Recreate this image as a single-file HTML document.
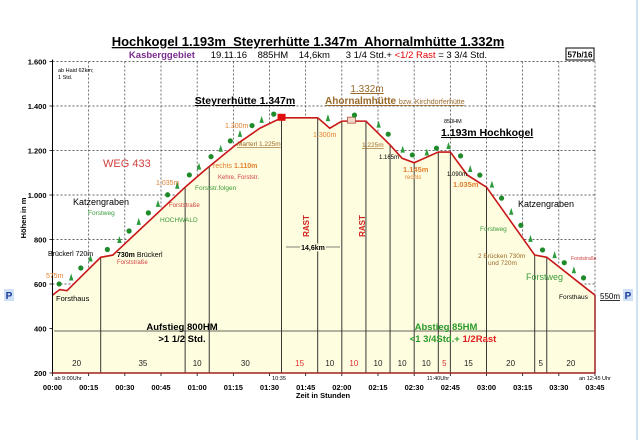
<!DOCTYPE html>
<html><head><meta charset="utf-8"><style>
html,body{margin:0;padding:0;background:#fff;}
svg{display:block;font-family:"Liberation Sans",Arial,sans-serif;}
</style></head><body>
<svg id="chart" width="643" height="440" viewBox="0 0 643 440">
<rect x="0" y="0" width="643" height="440" fill="#fff"/>
<line x1="637" y1="0" x2="637" y2="440" stroke="#cfe3f3" stroke-width="2"/>
<g id="grid"></g>
<g id="profile"></g>
<g id="trees"></g>
<g id="axes"></g>
<g id="labels">
<text x="308" y="46" font-size="13" font-weight="bold" text-anchor="middle" text-decoration="underline" style="white-space:pre">Hochkogel 1.193m  Steyrerhütte 1.347m  Ahornalmhütte 1.332m</text>
<text x="308" y="58" font-size="9.5" text-anchor="middle" style="white-space:pre"><tspan fill="#7b2d8e" font-weight="bold">Kasberggebiet</tspan>      19.11.16    885HM    14,6km      3 1/4 Std.+ <tspan fill="#e00000">&lt;1/2 Rast</tspan> = 3 3/4 Std.</text>
<rect x="566" y="48" width="28" height="12" fill="#fff" stroke="#000" stroke-width="1"/>
<text x="580" y="57.5" font-size="8" font-weight="bold" text-anchor="middle">57b/16</text>
<text x="58" y="72" font-size="5.5">ab Haid 62km;</text>
<text x="58" y="79" font-size="5.5">1 Std.</text>
<text x="245" y="104" font-size="10.5" font-weight="bold" text-anchor="middle" text-decoration="underline">Steyrerhütte 1.347m</text>
<text x="367" y="92" font-size="10" fill="#9a6a2a" text-anchor="middle" text-decoration="underline">1.332m</text>
<text x="325" y="104" font-size="10" fill="#9a6a2a" font-weight="bold" text-decoration="underline">Ahornalmhütte <tspan font-size="7" font-weight="normal">bzw. Kirchdorferhütte</tspan></text>
<text x="444" y="123" font-size="5.5">850HM</text>
<text x="441" y="136" font-size="10.5" font-weight="bold" text-decoration="underline">1.193m Hochkogel</text>
<text x="103" y="167" font-size="11" fill="#d04040">WEG 433</text>
<text x="73" y="205" font-size="9">Katzengraben</text>
<text x="88" y="215" font-size="6.5" fill="#3a9a3a">Forstweg</text>
<text x="160" y="222" font-size="6.5" fill="#3a9a3a">HOCHWALD</text>
<text x="48" y="256" font-size="7">Brückerl 720m</text>
<text x="117" y="257" font-size="7"><tspan font-weight="bold">730m</tspan> Brückerl</text>
<text x="117" y="264" font-size="6" fill="#d04040">Forststraße</text>
<text x="46" y="278" font-size="7" fill="#e08030">575m</text>
<text x="56" y="301" font-size="7.5">Forsthaus</text>
<text x="156" y="185" font-size="7" fill="#e08030">1.035m</text>
<text x="169" y="207" font-size="6" fill="#d04040">Forststraße</text>
<text x="195" y="190" font-size="6.5" fill="#3a9a3a">Forststr.folgen</text>
<text x="213" y="168" font-size="7" fill="#e08030">rechts <tspan font-weight="bold">1.110m</tspan></text>
<text x="218" y="179" font-size="6" fill="#d04040">Kehre, Forststr.</text>
<text x="237" y="146" font-size="6.5" fill="#9a6a2a" text-decoration="underline">Marterl 1.225m</text>
<text x="225" y="128" font-size="7" fill="#e08030">1.300m</text>
<text x="313" y="137" font-size="7" fill="#e08030">1.300m</text>
<text x="362" y="147" font-size="6.5" fill="#9a6a2a" text-decoration="underline">1.225m</text>
<text x="379" y="159" font-size="6">1.165m</text>
<text x="403" y="172" font-size="7.5" fill="#e08030" font-weight="bold">1.145m</text>
<text x="405" y="179" font-size="6" fill="#e08030">rechts</text>
<text x="447" y="176" font-size="6">1.090m</text>
<text x="453" y="187" font-size="7.5" fill="#e08030" font-weight="bold">1.035m</text>
<text x="518" y="207" font-size="9">Katzengraben</text>
<text x="480" y="231" font-size="6.5" fill="#3a9a3a">Forstweg</text>
<text x="478" y="258" font-size="6.5" fill="#9a6a2a">2 Brücken 730m</text>
<text x="488" y="265" font-size="6.5" fill="#9a6a2a">und 720m</text>
<text x="526" y="280" font-size="9" fill="#3a9a3a">Forstweg</text>
<text x="571" y="260" font-size="5" fill="#d04040">Forststraße</text>
<text x="559" y="299" font-size="6.5">Forsthaus</text>
<text x="600" y="299" font-size="8" text-decoration="underline">550m</text>
<rect x="4" y="289" width="10" height="12" fill="#cde0f5"/>
<text x="9" y="299" font-size="10" font-weight="bold" fill="#1a3a9a" text-anchor="middle">P</text>
<rect x="623" y="289" width="10" height="12" fill="#cde0f5"/>
<text x="628" y="299" font-size="10" font-weight="bold" fill="#1a3a9a" text-anchor="middle">P</text>
<text x="299" y="236" font-size="8" font-weight="bold" fill="#d02020" text-anchor="middle" transform="rotate(-90 299 226)">RAST</text>
<text x="355" y="236" font-size="8" font-weight="bold" fill="#d02020" text-anchor="middle" transform="rotate(-90 355 226)">RAST</text>
<line x1="286" y1="247" x2="340" y2="247" stroke="#000" stroke-width="0.6"/>
<text x="313" y="250" font-size="7" font-weight="bold" text-anchor="middle" fill="#000" style="paint-order:stroke" stroke="#fffde0" stroke-width="3">14,6km</text>
<line x1="54" y1="331" x2="594" y2="331" stroke="#333" stroke-width="0.7"/>
<text x="182" y="330" font-size="9.5" font-weight="bold" text-anchor="middle">Aufstieg 800HM</text>
<text x="182" y="342" font-size="9.5" font-weight="bold" text-anchor="middle">&gt;1 1/2 Std.</text>
<text x="446" y="330" font-size="9.5" font-weight="bold" fill="#2a9a2a" text-anchor="middle">Abstieg 85HM</text>
<text x="453" y="342" font-size="9.5" font-weight="bold" fill="#2a9a2a" text-anchor="middle">&lt;1 3/4Std.+ <tspan fill="#e02020">1/2Rast</tspan></text>
<text x="68" y="380" font-size="5.5" text-anchor="middle">ab 9:00Uhr</text>
<text x="279" y="380" font-size="5.5" text-anchor="middle">10:35</text>
<text x="438" y="380" font-size="5.5" text-anchor="middle">11:40Uhr</text>
<text x="595" y="380" font-size="5.5" text-anchor="middle">an 12:45 Uhr</text>
<text x="323" y="398" font-size="7.5" font-weight="bold" text-anchor="middle">Zeit in Stunden</text>
<text x="26" y="218" font-size="7.5" font-weight="bold" text-anchor="middle" transform="rotate(-90 26 218)">Höhen in m</text>
</g>
</svg>
<script>
const yTicks=[1600,1400,1200,1000,800,600,400,200];
const yTickLabels=["1.600","1.400","1.200","1.000","800","600","400","200"];
const xTickMinutes=[0,15,30,45,60,75,90,105,120,135,150,165,180,195,210,225];
const xTickLabels=["00:00","00:15","00:30","00:45","01:00","01:15","01:30","01:45","02:00","02:15","02:30","02:45","03:00","03:15","03:30","03:45"];
const profileMinutes=[0,3,6,20,25,55,63,76,86,95,110,115,120,130,140,145,150,160,165,172,180,200,205,222,225];
const profileElevation=[550,575,570,720,730,1035,1110,1225,1300,1347,1347,1300,1332,1332,1225,1165,1145,1193,1193,1090,1035,730,720,575,550];
const segmentEnds=[20,55,65,95,110,120,130,140,150,160,165,180,200,205,225];
const segmentDurations=["20","35","10","30","15","10","10","10","10","10","5","15","20","5","20"];
const segmentRest=[false,false,false,false,true,false,true,false,false,false,true,false,false,false,false];
const treeMinutes=[4,9,13,17,24,29,33,37,41,45,49,53,58,62,67,71,75,79,84,88,93,113,124,134,138,144,148,154,158,163,168,172,176,181,185,189,193,197,202,207,211,215,219];
const x0=52.5,x1=595,yTop=61.5,yBot=373;
function X(m){return x0+(m/225)*(x1-x0);}
function Y(v){return yTop+(1600-v)*(yBot-yTop)/1400;}
const NS="http://www.w3.org/2000/svg";
function mk(tag,attrs,parent){const e=document.createElementNS(NS,tag);for(const k in attrs)e.setAttribute(k,attrs[k]);parent.appendChild(e);return e;}
const grid=document.getElementById('grid'),prof=document.getElementById('profile'),axes=document.getElementById('axes'),trees=document.getElementById('trees');
yTicks.forEach((v,i)=>{
  if(v>200){const l=mk('line',{x1:x0,y1:Y(v),x2:x1,y2:Y(v),stroke:'#333','stroke-width':0.7,'stroke-dasharray':'2,2'},grid);
  
  }
  const t=mk('text',{x:x0-6,y:Y(v)+3,'font-size':7.5,'font-weight':'bold','text-anchor':'end'},axes);t.textContent=yTickLabels[i];
  
  
  const tk=mk('line',{x1:x0-3,y1:Y(v),x2:x0,y2:Y(v),stroke:'#000','stroke-width':0.8},axes);
  
  
});
xTickMinutes.forEach((m,i)=>{
  if(m>0){const l=mk('line',{x1:X(m),y1:yTop,x2:X(m),y2:yBot,stroke:'#333','stroke-width':0.7,'stroke-dasharray':'2,2'},grid);
  
  }
  const t=mk('text',{x:X(m),y:390,'font-size':7.5,'font-weight':'bold','text-anchor':'middle'},axes);t.textContent=xTickLabels[i];
  
  
  const tk=mk('line',{x1:X(m),y1:yBot,x2:X(m),y2:yBot+3,stroke:'#000','stroke-width':0.8},axes);
  
  
});
let pts=profileMinutes.map((m,i)=>X(m)+','+Y(profileElevation[i])).join(' ');
const area=mk('polygon',{points:X(0)+','+yBot+' '+pts+' '+X(225)+','+yBot,fill:'#fffde0',stroke:'none'},prof);


function elevAt(m){for(let i=1;i<profileMinutes.length;i++){if(m<=profileMinutes[i]){const a=profileMinutes[i-1],b=profileMinutes[i];return profileElevation[i-1]+(profileElevation[i]-profileElevation[i-1])*(m-a)/(b-a);}}return profileElevation[profileElevation.length-1];}
let prev=0;
segmentEnds.forEach((m,i)=>{
  if(m<225){const l=mk('line',{x1:X(m),y1:Y(elevAt(m)),x2:X(m),y2:yBot,stroke:'#222','stroke-width':0.9},prof);
  
  }
  if(segmentDurations[i]){const t=mk('text',{x:(X(prev)+X(m))/2,y:366,'font-size':8,'text-anchor':'middle',fill:segmentRest[i]?'#e03030':'#222'},prof);t.textContent=segmentDurations[i];
  
  }
  prev=m;
});
const line=mk('polyline',{points:pts,fill:'none',stroke:'#c81818','stroke-width':1.6},prof);


treeMinutes.forEach((m,i)=>{
  const cx=X(m)+(m<112?-3:3),cy=Y(elevAt(m))-6;
  let t;
  if(i%2===0){t=mk('circle',{cx:cx,cy:cy,r:2.6,fill:'#1f8a2a'},trees);}
  else{t=mk('polygon',{points:(cx-2.2)+','+(cy+3)+' '+cx+','+(cy-4)+' '+(cx+2.2)+','+(cy+3),fill:'#2a9a3a'},trees);}
  
  
});
const hut=mk('rect',{x:X(95)-4,y:Y(1347)-4,width:8,height:7,fill:'#e01010'},prof);


const hut2=mk('rect',{x:X(124)-4,y:Y(1332)-4,width:8,height:6,fill:'#f6d6c6',stroke:'#a04030','stroke-width':0.7},prof);


const ax=mk('line',{x1:x0,y1:yTop-2,x2:x0,y2:yBot,stroke:'#000','stroke-width':1},axes);


const bx=mk('line',{x1:x0,y1:yBot,x2:x1,y2:yBot,stroke:'#a02020','stroke-width':1.5},axes);


const rx=mk('line',{x1:x1,y1:Y(550),x2:x1,y2:yBot,stroke:'#a02020','stroke-width':1.5},axes);


</script>
</body></html>
